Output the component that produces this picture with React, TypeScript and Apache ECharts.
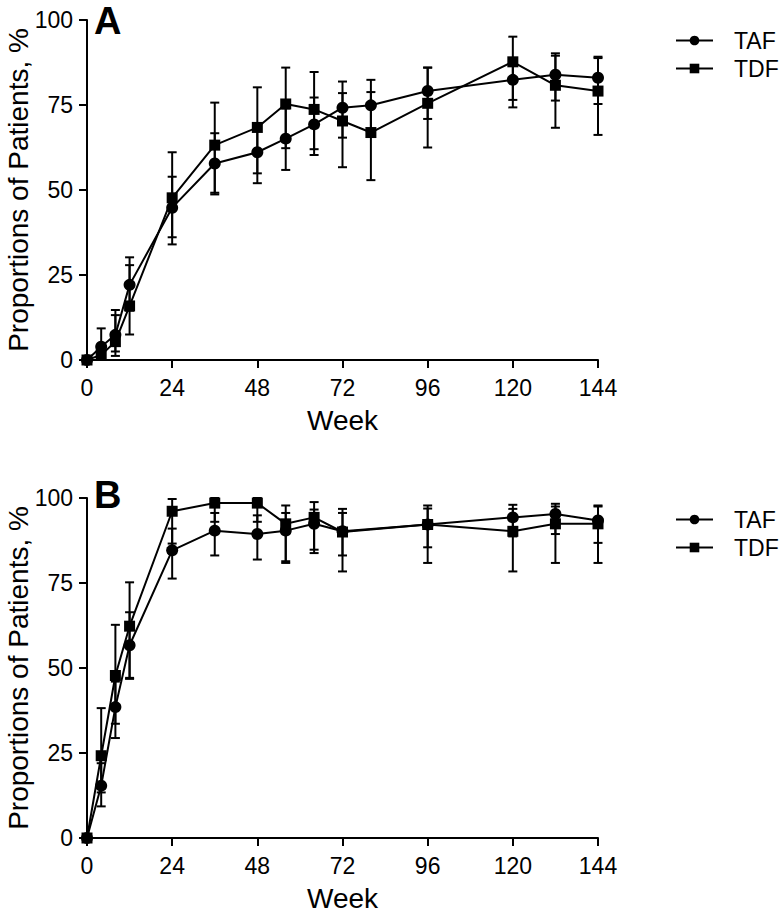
import React, { useEffect, useRef } from "react";
import * as echarts from "echarts";

const xTicks = [0, 24, 48, 72, 96, 120, 144];
const yTicks = [0, 25, 50, 75, 100];

const weeksA = [0, 4, 8, 12, 24, 36, 48, 56, 64, 72, 80, 96, 120, 132, 144];
const tafA = [0, 3.9, 7.4, 22.1, 44.8, 57.8, 61.1, 65.1, 69.3, 74.2, 74.9, 79.1, 82.4, 83.9, 83.0];
const tafALow = [0, 0.8, 2.5, 14.5, 36.1, 48.7, 52.0, 55.9, 60.3, 65.4, 66.5, 70.9, 74.3, 76.3, 75.3];
const tafAHigh = [0, 9.3, 13.2, 30.2, 53.9, 66.7, 69.5, 74.0, 77.2, 81.9, 82.4, 86.0, 88.5, 90.2, 89.2];
const tdfA = [0, 1.5, 5.4, 15.9, 47.7, 63.2, 68.4, 75.3, 73.7, 70.3, 66.9, 75.5, 87.7, 80.8, 79.1];
const tdfALow = [0, 0, 1.2, 7.5, 34.0, 49.2, 54.9, 62.3, 62.0, 56.7, 52.9, 62.5, 76.5, 68.3, 66.2];
const tdfAHigh = [0, 4.0, 14.7, 27.9, 61.1, 75.7, 80.2, 86.0, 84.7, 78.5, 78.8, 86.0, 95.1, 89.5, 88.8];

const weeksB = [0, 4, 8, 12, 24, 36, 48, 56, 64, 72, 96, 120, 132, 144];
const tafB = [0, 15.4, 38.5, 56.7, 84.6, 90.4, 89.4, 90.4, 92.4, 90.2, 92.2, 94.3, 95.3, 93.4];
const tafBLow = [0, 9.3, 29.4, 46.8, 76.3, 83.1, 81.9, 80.9, 83.8, 83.1, 85.5, 88.7, 89.4, 86.8];
const tafBHigh = [0, 22.0, 46.0, 66.4, 91.0, 95.6, 94.9, 95.6, 96.6, 96.8, 97.8, 98.0, 98.3, 97.8];
const tdfB = [0, 24.2, 47.8, 62.3, 96.1, 98.5, 98.5, 92.4, 94.3, 90.0, 92.2, 90.2, 92.4, 92.4];
const tdfBLow = [0, 13.4, 33.6, 47.1, 86.6, 93.0, 93.0, 81.4, 84.8, 78.4, 80.9, 78.4, 80.9, 80.9];
const tdfBHigh = [0, 38.2, 62.7, 75.2, 99.7, 100, 100, 97.8, 98.8, 95.6, 96.9, 96.8, 97.5, 97.5];

const FONT = "Liberation Sans, Arial, sans-serif";

function errorSeries(name: string, weeks: number[], low: number[], high: number[], idx: number) {
  const data = weeks
    .map((w, i) => [w, low[i], high[i]])
    .filter((d) => d[2] - d[1] > 0);
  return {
    type: "custom",
    name: name + "_err",
    xAxisIndex: idx,
    yAxisIndex: idx,
    silent: true,
    z: 1,
    encode: { x: 0, y: [1, 2] },
    data,
    renderItem: (params: any, api: any) => {
      const x = api.value(0);
      const lo = api.coord([x, api.value(1)]);
      const hi = api.coord([x, api.value(2)]);
      const w = 4.5;
      const st = { stroke: "#000", lineWidth: 2 };
      return {
        type: "group",
        children: [
          { type: "line", shape: { x1: lo[0], y1: lo[1], x2: hi[0], y2: hi[1] }, style: st },
          { type: "line", shape: { x1: hi[0] - w, y1: hi[1], x2: hi[0] + w, y2: hi[1] }, style: st },
          { type: "line", shape: { x1: lo[0] - w, y1: lo[1], x2: lo[0] + w, y2: lo[1] }, style: st },
        ],
      };
    },
  };
}

function lineSeries(name: string, weeks: number[], vals: number[], idx: number, symbol: string, size: number) {
  return {
    type: "line",
    name,
    xAxisIndex: idx,
    yAxisIndex: idx,
    symbol,
    symbolSize: size,
    showAllSymbol: true,
    z: 3,
    lineStyle: { color: "#000", width: 2 },
    itemStyle: { color: "#000" },
    data: weeks.map((w, i) => [w, vals[i]]),
  };
}

export default function App() {
  const ref = useRef<HTMLDivElement>(null);
  useEffect(() => {
    if (!ref.current) return;
    const chart = echarts.init(ref.current, undefined, { renderer: "svg" });
    const grids = [
      { left: 87, top: 20, width: 511, height: 340, outerBoundsMode: "none", containLabel: false },
      { left: 87, top: 498, width: 511, height: 340, outerBoundsMode: "none", containLabel: false },
    ];
    const xAxis = [0, 1].map((i) => ({
      type: "value",
      gridIndex: i,
      min: xTicks[0],
      max: xTicks[xTicks.length - 1],
      interval: 24,
      name: "Week",
      nameLocation: "middle",
      nameGap: 46,
      nameTextStyle: { fontFamily: FONT, fontSize: 28, color: "#000" },
      axisLine: { lineStyle: { color: "#000", width: 2 } },
      axisTick: { show: true, length: 8, lineStyle: { color: "#000", width: 2 } },
      axisLabel: { fontFamily: FONT, fontSize: 23, color: "#000", margin: 16 },
      splitLine: { show: false },
    }));
    const yAxis = [0, 1].map((i) => ({
      type: "value",
      gridIndex: i,
      min: yTicks[0],
      max: yTicks[yTicks.length - 1],
      interval: 25,
      name: "Proportions of Patients, %",
      nameLocation: "middle",
      nameGap: 55,
      nameMoveOverlap: false,
      nameRotate: 90,
      nameTextStyle: { fontFamily: FONT, fontSize: 28, color: "#000" },
      axisLine: { show: true, lineStyle: { color: "#000", width: 2 } },
      axisTick: { show: true, length: 8, lineStyle: { color: "#000", width: 2 } },
      axisLabel: { fontFamily: FONT, fontSize: 23, color: "#000", margin: 14 },
      splitLine: { show: false },
    }));
    const legendBase = {
      orient: "vertical",
      left: 675,
      padding: 0,
      itemWidth: 37,
      itemHeight: 12,
      itemGap: 5,
      textStyle: { fontFamily: FONT, fontSize: 23, color: "#000", padding: [0, 0, 0, 16] },
      data: ["TAF", "TDF"],
    };
    chart.setOption({
      animation: false,
      backgroundColor: "#fff",
      grid: grids,
      xAxis,
      yAxis,
      legend: [
        { ...legendBase, top: 29 },
        { ...legendBase, top: 508 },
      ],
      graphic: [
        { type: "text", left: 94, top: 2, style: { text: "A", font: `bold 38px ${FONT}`, fill: "#000" } },
        { type: "text", left: 94, top: 476, style: { text: "B", font: `bold 38px ${FONT}`, fill: "#000" } },
      ],
      series: [
        errorSeries("TAF", weeksA, tafALow, tafAHigh, 0),
        errorSeries("TDF", weeksA, tdfALow, tdfAHigh, 0),
        lineSeries("TAF", weeksA, tafA, 0, "circle", 12),
        lineSeries("TDF", weeksA, tdfA, 0, "rect", 11),
        errorSeries("TAF", weeksB, tafBLow, tafBHigh, 1),
        errorSeries("TDF", weeksB, tdfBLow, tdfBHigh, 1),
        lineSeries("TAF", weeksB, tafB, 1, "circle", 12),
        lineSeries("TDF", weeksB, tdfB, 1, "rect", 11),
      ],
    });
    return () => chart.dispose();
  }, []);
  return (
    <div
      ref={ref}
      style={{ position: "fixed", left: 0, top: 0, width: 784, height: 914, background: "#fff" }}
    />
  );
}
